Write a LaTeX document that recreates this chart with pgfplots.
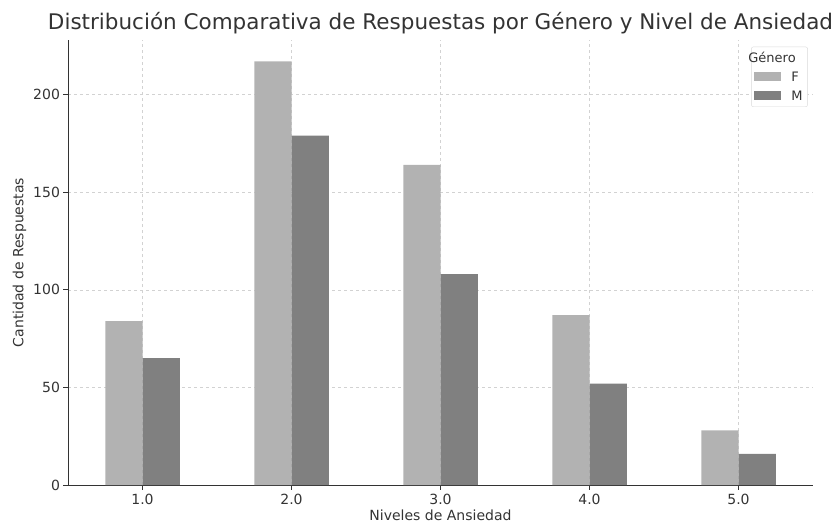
\documentclass[border=0pt]{standalone}
\usepackage{pgfplots}
\pgfplotsset{compat=1.18}
\usepackage{fontspec}
\setmainfont{DejaVu Sans}
\definecolor{barF}{HTML}{B2B2B2}
\definecolor{barM}{HTML}{808080}
\definecolor{txt}{HTML}{333333}
\begin{document}
\begin{tikzpicture}
\begin{axis}[
  name=ax,
  at={(0,0)}, anchor=south west,
  scale only axis,
  width=745pt, height=445pt,
  xmin=-0.5, xmax=4.5,
  ymin=0, ymax=228,
  axis lines*=left,
  axis line style={txt, line width=0.9pt},
  xtick={0,1,2,3,4},
  xticklabels={1.0,2.0,3.0,4.0,5.0},
  ytick={0,50,100,150,200},
  tick align=outside,
  tick pos=left,
  major tick length=4.5pt,
  tick style={txt, line width=0.9pt},
  grid=major,
  grid style={dashed, gray!35, line width=0.5pt},
  /pgf/number format/assume math mode=true,
  ticklabel style={font=\fontsize{14}{16}\selectfont, text=txt},
  xticklabel style={yshift=-1pt},
  xlabel={Niveles de Ansiedad},
  ylabel={Cantidad de Respuestas},
  label style={font=\fontsize{14}{16}\selectfont, text=txt},
  xlabel style={yshift=2pt},
  ylabel style={yshift=0pt},
  title={Distribución Comparativa de Respuestas por Género y Nivel de Ansiedad},
  title style={font=\fontsize{21.5}{24}\selectfont, text=txt, yshift=-4pt, xshift=0pt},
  legend style={at={(0.993,0.985)}, anchor=north east, draw=gray!30, rounded corners=2pt,
    fill=white, font=\fontsize{13}{15}\selectfont, text=txt, row sep=4pt, inner sep=3pt},
  legend cell align=left,
  legend image code/.code={\fill[#1, sharp corners] (0pt,-4pt) rectangle (27pt,5pt); \path (35pt,0pt);},
]
\addlegendimage{empty legend}
\addlegendentry{\hspace{-43pt}Género}
\addplot[ybar, bar width=0.25, bar shift=-0.125, fill=barF, draw=none] coordinates {
  (0,84) (1,217) (2,164) (3,87) (4,28)};
\addlegendentry{F}
\addplot[ybar, bar width=0.25, bar shift=0.125, fill=barM, draw=none] coordinates {
  (0,65) (1,179) (2,108) (3,52) (4,16)};
\addlegendentry{M}
\end{axis}
\pgfresetboundingbox
\path ([shift={(-68pt,-40pt)}]ax.south west) rectangle ([shift={(20pt,40pt)}]ax.north east);
\end{tikzpicture}
\end{document}
